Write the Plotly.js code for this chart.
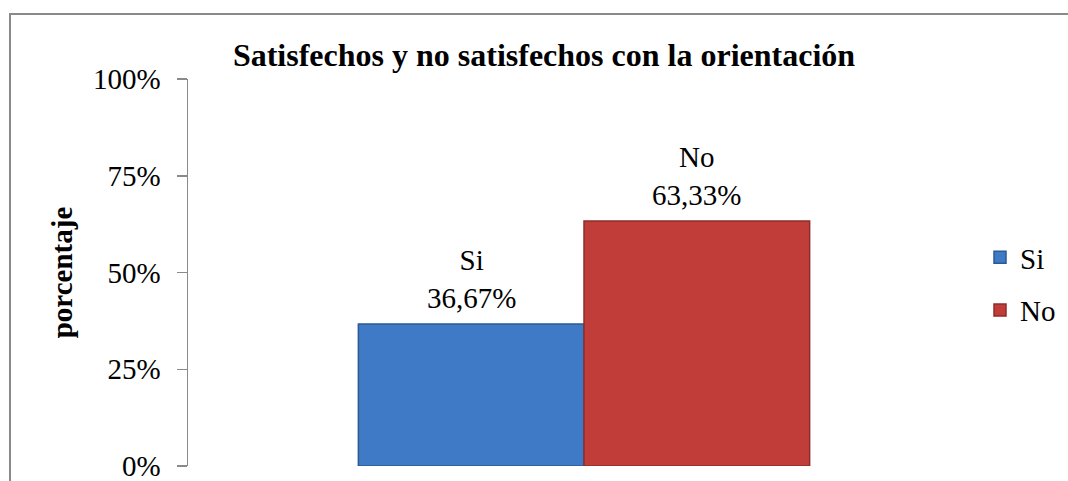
<!DOCTYPE html>
<html>
<head>
<meta charset="utf-8">
<script src="https://cdn.plot.ly/plotly-3.0.1.min.js"></script>
<style>
  html, body { margin: 0; padding: 0; background: #ffffff; overflow: hidden; }
  #wrap { position: relative; width: 1068px; height: 481px; overflow: hidden; }
  #chart { position: absolute; left: 0; top: 0; width: 1068px; height: 481px; }
  #frame { position: absolute; left: 9px; top: 13px; width: 1059px; height: 468px;
           border-left: 2px solid #8a8a8a; border-top: 2px solid #8a8a8a; pointer-events: none;
           box-sizing: border-box; }
</style>
</head>
<body>
<div id="wrap">
  <div id="frame"></div>
  <div id="chart"></div>
</div>
<script>
// Data
const seriesNames = ['Si', 'No'];
const siValues = [0.3667];
const noValues = [0.6333];
const yTickVals = [0, 0.25, 0.5, 0.75, 1];
const yTickText = ['0%', '25%', '50%', '75%', '100%'];

const FONT = 'Liberation Serif';
const seriesValues = [siValues, noValues];
const fills = ['#3e7ac6', '#c03d3a'];
const edges = ['#2c5a94', '#8e2c2a'];

function pct(v) { return (v * 100).toFixed(2).replace('.', ',') + '%'; }

const traces = seriesNames.map((name, i) => ({
  type: 'bar', name: name, x: [name], y: seriesValues[i],
  legendgroup: 'g' + i,
  marker: { color: fills[i], line: { color: edges[i], width: 1.5 } },
  hoverinfo: 'none'
}));

const annotations = seriesNames.map((name, i) => ({
  x: name, y: seriesValues[i][0], xref: 'x', yref: 'y',
  text: name + '<br>' + pct(seriesValues[i][0]),
  showarrow: false, xanchor: 'center', yanchor: 'bottom', yshift: 8,
  font: { family: FONT, size: 29, color: '#000000' }
}));

const layout = {
  width: 1068, height: 481,
  paper_bgcolor: 'rgba(0,0,0,0)', plot_bgcolor: 'rgba(0,0,0,0)',
  separators: ',.',
  font: { family: FONT, size: 29, color: '#000000' },
  margin: { l: 188, r: 85, t: 79, b: 15, pad: 0 },
  barmode: 'overlay', bargap: 0,
  showlegend: true,
  annotations: annotations,
  title: {
    text: '<b>Satisfechos y no satisfechos con la orientación</b>',
    font: { family: FONT, size: 32, color: '#000000' },
    x: 544 / 1068, xanchor: 'center', xref: 'container',
    y: 1 - 55 / 481, yanchor: 'middle', yref: 'container'
  },
  xaxis: {
    type: 'category', range: [-1.255, 2.255],
    showticklabels: false, showline: false, ticks: '', showgrid: false, zeroline: false,
    fixedrange: true
  },
  yaxis: {
    range: [0, 1], tickvals: yTickVals, ticktext: yTickText,
    showline: true, linecolor: '#8a8a8a', linewidth: 1.5,
    ticks: 'outside', ticklen: 10, tickcolor: '#8a8a8a', tickwidth: 1.5,
    showgrid: false, zeroline: false,
    tickfont: { family: FONT, size: 29, color: '#000000' },
    ticklabelstandoff: 10,
    ticklabeloverflow: 'allow',
    title: { text: '<b>porcentaje</b>', font: { family: FONT, size: 29, color: '#000000' }, standoff: 12 },
    fixedrange: true
  },
  legend: {
    xref: 'container', yref: 'container',
    x: 980 / 1068, xanchor: 'left',
    y: 1 - 284 / 481, yanchor: 'middle',
    font: { family: FONT, size: 29, color: '#000000' },
    tracegroupgap: 12, traceorder: 'grouped',
    bgcolor: 'rgba(0,0,0,0)', borderwidth: 0
  }
};

Plotly.newPlot('chart', traces, layout, { displayModeBar: false, staticPlot: true });
</script>
</body>
</html>
